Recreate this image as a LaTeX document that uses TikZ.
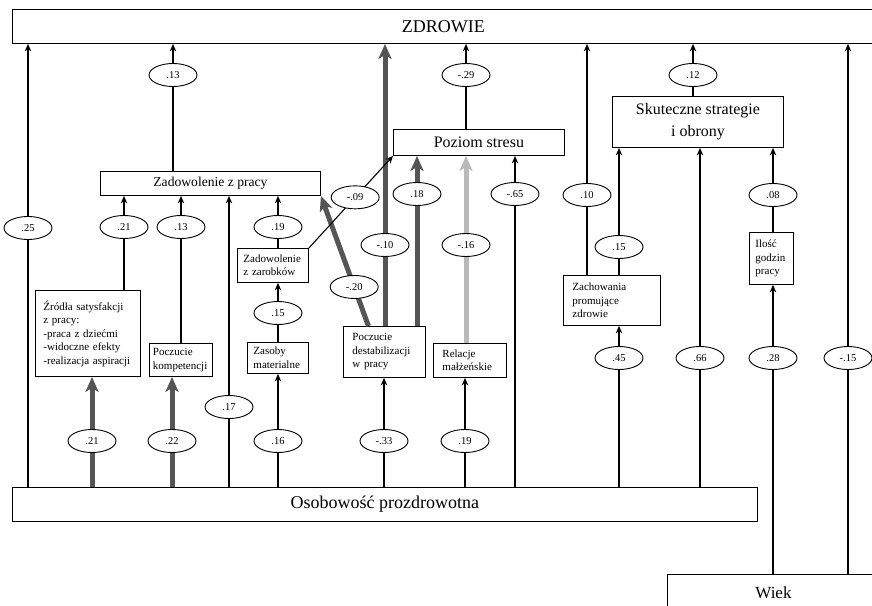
\documentclass[tikz,border=0pt]{standalone}
\usepackage{fontspec}
\setmainfont{Liberation Serif}
\usetikzlibrary{arrows.meta,shapes.geometric}

\definecolor{darkbar}{RGB}{85,85,85}
\definecolor{lightbar}{RGB}{185,185,185}

\tikzset{
  bigbox/.style={draw, fill=white, line width=0.9pt, inner sep=0pt, anchor=north west},
  sbox/.style={draw, fill=white, line width=0.9pt, align=left, inner xsep=8pt, inner ysep=2pt,
    anchor=north west, font=\fontsize{11}{13.5}\selectfont},
  coef/.style={ellipse, draw=black, text=black, fill=white, line width=0.9pt, minimum width=48pt,
    minimum height=23pt, inner sep=0pt, font=\fontsize{10.5}{12}\selectfont},
  thinarr/.style={line width=1.1pt, -{Stealth[length=7.5pt,width=6.5pt]}},
  darkarr/.style={line width=5pt, draw=darkbar, -{Stealth[length=15pt,width=13pt,inset=4pt]}},
  lightarr/.style={line width=5pt, draw=lightbar, -{Stealth[length=15pt,width=13pt,inset=4pt]}}
}

\begin{document}
\begin{tikzpicture}[x=1pt,y=1pt,yscale=-1]
\useasboundingbox (0,0) rectangle (872,605);
\clip (0,0) rectangle (872,605);

% Main boxes
\node[bigbox, minimum width=862, minimum height=34, font=\fontsize{18}{20}\selectfont] (zdr) at (12,9) {ZDROWIE};
\node[bigbox, minimum width=745, minimum height=34, font=\fontsize{18}{20}\selectfont] (osob) at (12,487) {Osobowość prozdrowotna};
\node[bigbox, minimum width=212, minimum height=36, font=\fontsize{17}{20}\selectfont] (wiek) at (667,574) {Wiek};
\node[bigbox, minimum width=220, minimum height=24, font=\fontsize{13.6}{16}\selectfont] (zadpr) at (100,171) {Zadowolenie z pracy};
\node[bigbox, minimum width=171, minimum height=26, font=\fontsize{16}{18}\selectfont] (pstres) at (393,129) {Poziom stresu};
\node[bigbox, minimum width=171, minimum height=51, align=center, font=\fontsize{16}{22}\selectfont] (skut) at (612,96) {Skuteczne strategie\\i obrony};

% Small boxes
\node[sbox, text width=89pt, minimum height=86] (zrod) at (35,290) {Źródła satysfakcji\\z pracy:\\-praca z dziećmi\\-widoczne efekty\\-realizacja aspiracji};
\node[sbox, inner xsep=3.5pt, text width=56pt, minimum height=33] (komp) at (149,343) {Poczucie\\kompetencji};
\node[sbox, inner xsep=6pt, text width=59pt, minimum height=34] (zar) at (237,248) {Zadowolenie\\z zarobków};
\node[sbox, inner xsep=6pt, text width=49pt, minimum height=31] (zas) at (247,342) {Zasoby\\materialne};
\node[sbox, inner xsep=9pt, text width=64pt, minimum height=51] (pdest) at (343,326) {Poczucie\\destabilizacji\\w pracy};
\node[sbox, inner xsep=9pt, text width=55pt, minimum height=34] (rel) at (433,343) {Relacje\\małżeńskie};
\node[sbox, inner xsep=9pt, text width=79pt, minimum height=50] (zach) at (563,275) {Zachowania\\promujące\\zdrowie};
\node[sbox, inner xsep=6pt, text width=32pt, minimum height=52] (ilosc) at (749,232) {Ilość\\godzin\\pracy};

% Coefficients
\node[coef] (c25) at (28,228) {.25};
\node[coef] (c13a) at (173,75) {.13};
\node[coef] (c10z) at (385,245) {-.10};
\node[coef] (c29) at (466,75) {-.29};
\node[coef] (c10) at (587,195) {.10};
\node[coef] (c12) at (693,75) {.12};
\node[coef] (c15r) at (848,358) {-.15};
\node[coef] (c21a) at (124,227) {.21};
\node[coef] (c13b) at (181,227) {.13};
\node[coef] (c17) at (229,407) {.17};
\node[coef] (c19a) at (278,227) {.19};
\node[coef] (c18) at (417,194) {.18};
\node[coef] (c16r) at (466,245) {-.16};
\node[coef] (c65) at (515,194) {-.65};
\node[coef] (c15a) at (278,313) {.15};
\node[coef] (c15b) at (619,247) {.15};
\node[coef] (c66) at (700,358) {.66};
\node[coef] (c08) at (773,195) {.08};
\node[coef] (c45) at (619,358) {.45};
\node[coef] (c28) at (773,358) {.28};
\node[coef] (c21b) at (92,441) {.21};
\node[coef] (c22) at (172,441) {.22};
\node[coef] (c16) at (278,441) {.16};
\node[coef] (c33) at (384,441) {-.33};
\node[coef] (c19b) at (465,441) {.19};

% Paths into ZDROWIE
\draw[thinarr] (osob.north -| c25) -- (c25) -- (c25 |- zdr.south);
\draw[thinarr] (zadpr.north -| c13a) -- (c13a) -- (c13a |- zdr.south);
\draw[darkarr] (pdest.north -| c10z) -- (c10z) -- (c10z |- zdr.south);
\draw[thinarr] (pstres.north -| c29) -- (c29) -- (c29 |- zdr.south);
\draw[thinarr] (zach.north -| c10) -- (c10) -- (c10 |- zdr.south);
\draw[thinarr] (skut.north -| c12) -- (c12) -- (c12 |- zdr.south);
\draw[thinarr] (wiek.north -| c15r) -- (c15r) -- (c15r |- zdr.south);

% Paths into Zadowolenie z pracy
\draw[thinarr] (zrod.north -| c21a) -- (c21a) -- (c21a |- zadpr.south);
\draw[thinarr] (komp.north -| c13b) -- (c13b) -- (c13b |- zadpr.south);
\draw[thinarr] (osob.north -| c17) -- (c17) -- (c17 |- zadpr.south);
\draw[thinarr] (zar.north -| c19a) -- (c19a) -- (c19a |- zadpr.south);
\draw[darkarr] ([xshift=-16pt]pdest.north) -- node[coef, pos=0.3] (c20) {-.20} (zadpr.south east);

% Paths into Poziom stresu
\draw[thinarr] (zar.north east) -- node[coef, pos=0.55] (c09) {-.09} (pstres.south west);
\draw[darkarr] (pdest.north -| c18) -- (c18) -- (c18 |- pstres.south);
\draw[lightarr] (rel.north -| c16r) -- (c16r) -- (c16r |- pstres.south);
\draw[thinarr] (osob.north -| c65) -- (c65) -- (c65 |- pstres.south);

% Paths into Skuteczne strategie
\draw[thinarr] (zach.north -| c15b) -- (c15b) -- (c15b |- skut.south);
\draw[thinarr] (osob.north -| c66) -- (c66) -- (c66 |- skut.south);
\draw[thinarr] (ilosc.north -| c08) -- (c08) -- (c08 |- skut.south);

% Paths into the small boxes
\draw[thinarr] (zas.north -| c15a) -- (c15a) -- (c15a |- zar.south);
\draw[thinarr] (osob.north -| c45) -- (c45) -- (c45 |- zach.south);
\draw[thinarr] (wiek.north -| c28) -- (c28) -- (c28 |- ilosc.south);
\draw[darkarr] (osob.north -| c21b) -- (c21b) -- (c21b |- zrod.south);
\draw[darkarr] (osob.north -| c22) -- (c22) -- (c22 |- komp.south);
\draw[thinarr] (osob.north -| c16) -- (c16) -- (c16 |- zas.south);
\draw[thinarr] (osob.north -| c33) -- (c33) -- (c33 |- pdest.south);
\draw[thinarr] (osob.north -| c19b) -- (c19b) -- (c19b |- rel.south);

\end{tikzpicture}
\end{document}
